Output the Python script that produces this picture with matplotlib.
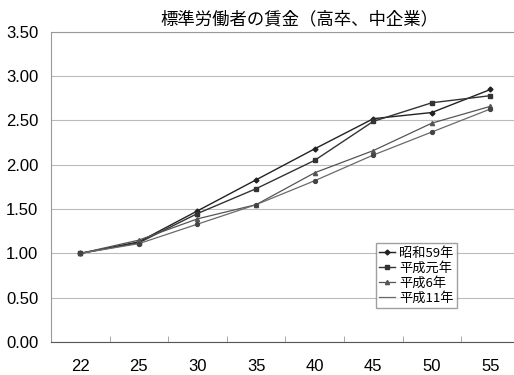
import matplotlib
matplotlib.use("Agg")
import matplotlib.pyplot as plt
import numpy as np

plt.rcParams['font.family'] = ['Noto Sans CJK JP', 'DejaVu Sans']

# age categories
ages = ["22", "25", "30", "35", "40", "45", "50", "55"]

# wage index (age 22 = 1.00)
s59 = [1.00, 1.13, 1.48, 1.83, 2.18, 2.52, 2.59, 2.85]
h01 = [1.00, 1.12, 1.45, 1.73, 2.05, 2.49, 2.70, 2.78]
h06 = [1.00, 1.15, 1.39, 1.55, 1.91, 2.16, 2.47, 2.66]
h11 = [1.00, 1.11, 1.33, 1.55, 1.82, 2.11, 2.37, 2.63]

fig = plt.figure(figsize=(5.14, 3.75), dpi=100)
ax = fig.add_axes([0.0992, 0.088, 0.912, 0.827])

x = np.arange(len(ages))

ax.plot(x, s59, color='#222222', lw=1.0, marker='D', ms=2.5, label='昭和59年')
ax.plot(x, h01, color='#333333', lw=1.0, marker='s', ms=3, label='平成元年')
ax.plot(x, h06, color='#555555', lw=0.9, marker='^', ms=3, label='平成6年')
ax.plot(x, h11, color='#6a6a6a', lw=0.9, label='平成11年')
# dots on the last series (kept out of the legend)
ax.plot(x, h11, color='#444444', lw=0, marker='o', ms=2.8)

ax.set_xlim(-0.5, len(ages) - 0.5)
ax.set_ylim(0, 3.5)
ax.set_yticks(np.arange(0, 3.51, 0.5))
ax.set_yticklabels([f"{v:.2f}" for v in np.arange(0, 3.51, 0.5)],
                   family='Liberation Sans', fontsize=12)
ax.set_xticks(x)
ax.set_xticklabels(ages, family='Liberation Sans', fontsize=12)
ax.set_xticks(np.arange(0.5, len(ages) - 0.5, 1), minor=True)
ax.tick_params(axis='x', which='major', length=0, pad=12)
ax.tick_params(axis='x', which='minor', direction='in', length=4, color='#999999')
ax.tick_params(axis='y', length=0, pad=9)

ax.grid(axis='y', color='#bbbbbb', lw=0.8)
ax.set_axisbelow(True)
for side in ['top', 'right', 'left']:
    ax.spines[side].set_color('#999999')
    ax.spines[side].set_linewidth(0.8)
ax.spines['bottom'].set_color('#555555')

ax.legend(loc='upper left', bbox_to_anchor=(0.693, 0.318), fontsize=9.5,
          frameon=True, fancybox=False, edgecolor='#888888', handlelength=1.2,
          handletextpad=0.3, borderpad=0.25, labelspacing=0.15, borderaxespad=0)

fig.text(0.583, 0.948, '標準労働者の賃金（高卒、中企業）', ha='center', va='center',
         fontsize=12.5)

fig.savefig('out.png', dpi=100)
